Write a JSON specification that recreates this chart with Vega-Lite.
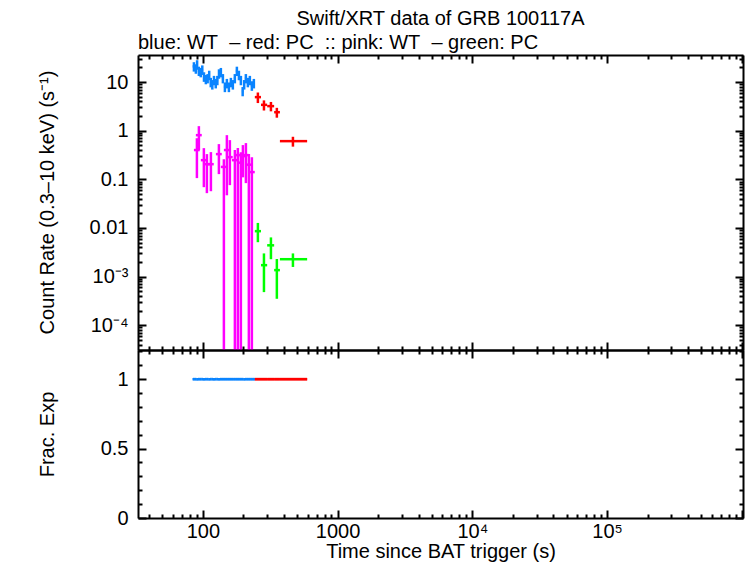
{
  "$schema": "https://vega.github.io/schema/vega-lite/v6.json",
  "background": "white",
  "padding": {"left": 36, "top": 8, "right": 4, "bottom": 4},
  "bounds": "flush",
  "spacing": 0,
  "title": {"text": "Swift/XRT data of GRB 100117A", "anchor": "middle", "frame": "group", "offset": 4},
  "datasets": {
    "xrt": [
      {"s": "blue WT", "t": 85.8, "tlo": 84, "thi": 87.2, "r": 21, "rlo": 16.4, "rhi": 25.6, "fe": 1},
      {"s": "blue WT", "t": 88.7, "tlo": 87.2, "thi": 89.5, "r": 19, "rlo": 14.8, "rhi": 23.2, "fe": 1},
      {"s": "blue WT", "t": 90.6, "tlo": 89.5, "thi": 91.8, "r": 23, "rlo": 17.9, "rhi": 28.1, "fe": 1},
      {"s": "blue WT", "t": 93.4, "tlo": 91.8, "thi": 95, "r": 17, "rlo": 13.3, "rhi": 20.7, "fe": 1},
      {"s": "blue WT", "t": 96.4, "tlo": 95, "thi": 97.8, "r": 16, "rlo": 12.5, "rhi": 19.5, "fe": 1},
      {"s": "blue WT", "t": 99, "tlo": 97.8, "thi": 100.3, "r": 18, "rlo": 14, "rhi": 22, "fe": 1},
      {"s": "blue WT", "t": 101.9, "tlo": 100.3, "thi": 103.5, "r": 13, "rlo": 10.1, "rhi": 15.9, "fe": 1},
      {"s": "blue WT", "t": 105.2, "tlo": 103.5, "thi": 107, "r": 11.5, "rlo": 9, "rhi": 14, "fe": 1},
      {"s": "blue WT", "t": 108.5, "tlo": 107, "thi": 110, "r": 12, "rlo": 9.4, "rhi": 14.6, "fe": 1},
      {"s": "blue WT", "t": 111.4, "tlo": 110, "thi": 112.8, "r": 14, "rlo": 10.9, "rhi": 17.1, "fe": 1},
      {"s": "blue WT", "t": 114.4, "tlo": 112.8, "thi": 116, "r": 10, "rlo": 7.8, "rhi": 12.2, "fe": 1},
      {"s": "blue WT", "t": 117.5, "tlo": 116, "thi": 119, "r": 9, "rlo": 7, "rhi": 11, "fe": 1},
      {"s": "blue WT", "t": 120.9, "tlo": 119, "thi": 122.8, "r": 11, "rlo": 8.6, "rhi": 13.4, "fe": 1},
      {"s": "blue WT", "t": 124.6, "tlo": 122.8, "thi": 126.5, "r": 9.5, "rlo": 7.4, "rhi": 11.6, "fe": 1},
      {"s": "blue WT", "t": 128.1, "tlo": 126.5, "thi": 129.8, "r": 11, "rlo": 8.6, "rhi": 13.4, "fe": 1},
      {"s": "blue WT", "t": 131.7, "tlo": 129.8, "thi": 133.7, "r": 15, "rlo": 11.7, "rhi": 18.3, "fe": 1},
      {"s": "blue WT", "t": 136, "tlo": 133.7, "thi": 138.4, "r": 16, "rlo": 12.5, "rhi": 19.5, "fe": 1},
      {"s": "blue WT", "t": 140.8, "tlo": 138.4, "thi": 143.2, "r": 12, "rlo": 9.4, "rhi": 14.6, "fe": 1},
      {"s": "blue WT", "t": 145.7, "tlo": 143.2, "thi": 148.2, "r": 8, "rlo": 6.2, "rhi": 9.8, "fe": 1},
      {"s": "blue WT", "t": 150.7, "tlo": 148.2, "thi": 153.3, "r": 9.5, "rlo": 7.4, "rhi": 11.6, "fe": 1},
      {"s": "blue WT", "t": 156, "tlo": 153.3, "thi": 158.7, "r": 8, "rlo": 6.2, "rhi": 9.8, "fe": 1},
      {"s": "blue WT", "t": 161.4, "tlo": 158.7, "thi": 164.2, "r": 10, "rlo": 7.8, "rhi": 12.2, "fe": 1},
      {"s": "blue WT", "t": 166.9, "tlo": 164.2, "thi": 169.7, "r": 9, "rlo": 7, "rhi": 11, "fe": 1},
      {"s": "blue WT", "t": 172.7, "tlo": 169.7, "thi": 175.7, "r": 12, "rlo": 9.4, "rhi": 14.6, "fe": 1},
      {"s": "blue WT", "t": 178.8, "tlo": 175.7, "thi": 182, "r": 17, "rlo": 13.3, "rhi": 20.7, "fe": 1},
      {"s": "blue WT", "t": 185.1, "tlo": 182, "thi": 188.2, "r": 14, "rlo": 10.9, "rhi": 17.1, "fe": 1},
      {"s": "blue WT", "t": 191.5, "tlo": 188.2, "thi": 194.8, "r": 11, "rlo": 8.6, "rhi": 13.4, "fe": 1},
      {"s": "blue WT", "t": 197.4, "tlo": 194.8, "thi": 200, "r": 6.5, "rlo": 5.1, "rhi": 7.9, "fe": 1},
      {"s": "blue WT", "t": 202.5, "tlo": 200, "thi": 205, "r": 9, "rlo": 7, "rhi": 11, "fe": 1},
      {"s": "blue WT", "t": 208.5, "tlo": 205, "thi": 212, "r": 12, "rlo": 9.4, "rhi": 14.6, "fe": 1},
      {"s": "blue WT", "t": 215.7, "tlo": 212, "thi": 219.5, "r": 10, "rlo": 7.8, "rhi": 12.2, "fe": 1},
      {"s": "blue WT", "t": 223.2, "tlo": 219.5, "thi": 227, "r": 11, "rlo": 8.6, "rhi": 13.4, "fe": 1},
      {"s": "blue WT", "t": 231, "tlo": 227, "thi": 235, "r": 8.5, "rlo": 6.6, "rhi": 10.4, "fe": 1},
      {"s": "blue WT", "t": 239, "tlo": 235, "thi": 243, "r": 9.5, "rlo": 7.4, "rhi": 11.6, "fe": 1},
      {"s": "red PC", "t": 256, "tlo": 243, "thi": 270, "r": 4.9, "rlo": 3.7, "rhi": 6.1, "fe": 1},
      {"s": "red PC", "t": 284, "tlo": 270, "thi": 300, "r": 3.4, "rlo": 2.6, "rhi": 4.2, "fe": 1},
      {"s": "red PC", "t": 320, "tlo": 300, "thi": 338, "r": 3.2, "rlo": 2.5, "rhi": 3.9, "fe": 1},
      {"s": "red PC", "t": 354, "tlo": 338, "thi": 373, "r": 2.4, "rlo": 1.85, "rhi": 2.95, "fe": 1},
      {"s": "red PC", "t": 466, "tlo": 373, "thi": 594, "r": 0.61, "rlo": 0.47, "rhi": 0.75, "fe": 1},
      {"s": "pink WT", "t": 90.3, "tlo": 85.8, "thi": 94.8, "r": 0.4, "rlo": 0.106, "rhi": 0.7},
      {"s": "pink WT", "t": 93.4, "tlo": 88.7, "thi": 98.1, "r": 0.81, "rlo": 0.4, "rhi": 1.24},
      {"s": "pink WT", "t": 101.7, "tlo": 96.6, "thi": 106.8, "r": 0.248, "rlo": 0.069, "rhi": 0.438},
      {"s": "pink WT", "t": 107.1, "tlo": 101.7, "thi": 112.5, "r": 0.205, "rlo": 0.052, "rhi": 0.33},
      {"s": "pink WT", "t": 114.7, "tlo": 109, "thi": 120.4, "r": 0.205, "rlo": 0.057, "rhi": 0.363},
      {"s": "pink WT", "t": 131.5, "tlo": 124.9, "thi": 138.1, "r": 0.33, "rlo": 0.128, "rhi": 0.53},
      {"s": "pink WT", "t": 143.2, "tlo": 136, "thi": 150.4, "r": 0.18, "rlo": 0.000001, "rhi": 0.26},
      {"s": "pink WT", "t": 150.7, "tlo": 143.2, "thi": 158.2, "r": 0.4, "rlo": 0.047, "rhi": 0.81},
      {"s": "pink WT", "t": 158.6, "tlo": 150.7, "thi": 166.5, "r": 0.286, "rlo": 0.076, "rhi": 0.64},
      {"s": "pink WT", "t": 172.8, "tlo": 164.2, "thi": 181.4, "r": 0.248, "rlo": 0.000001, "rhi": 0.4},
      {"s": "pink WT", "t": 181.8, "tlo": 172.7, "thi": 190.9, "r": 0.315, "rlo": 0.000001, "rhi": 0.44},
      {"s": "pink WT", "t": 191.4, "tlo": 181.8, "thi": 201, "r": 0.22, "rlo": 0.000001, "rhi": 0.36},
      {"s": "pink WT", "t": 198.2, "tlo": 188.3, "thi": 208.1, "r": 0.3, "rlo": 0.11, "rhi": 0.506},
      {"s": "pink WT", "t": 208.6, "tlo": 198.2, "thi": 219, "r": 0.315, "rlo": 0.0836, "rhi": 0.556},
      {"s": "pink WT", "t": 219.4, "tlo": 208.4, "thi": 230.4, "r": 0.2, "rlo": 0.000001, "rhi": 0.33},
      {"s": "pink WT", "t": 231, "tlo": 219.5, "thi": 242.6, "r": 0.141, "rlo": 0.000001, "rhi": 0.286},
      {"s": "green PC", "t": 256, "tlo": 243, "thi": 270, "r": 0.0086, "rlo": 0.0051, "rhi": 0.0127},
      {"s": "green PC", "t": 284, "tlo": 270, "thi": 300, "r": 0.00172, "rlo": 0.00048, "rhi": 0.003},
      {"s": "green PC", "t": 320, "tlo": 300, "thi": 338, "r": 0.0044, "rlo": 0.00228, "rhi": 0.0064},
      {"s": "green PC", "t": 354, "tlo": 338, "thi": 373, "r": 0.00136, "rlo": 0.00035, "rhi": 0.0023},
      {"s": "green PC", "t": 466, "tlo": 373, "thi": 594, "r": 0.00228, "rlo": 0.00158, "rhi": 0.003}
    ]
  },
  "data": {"name": "xrt"},
  "vconcat": [
    {
      "width": 605,
      "height": 295,
      "title": {"text": "blue: WT\u00a0 – red: PC\u00a0 :: pink: WT\u00a0 – green: PC", "anchor": "start", "frame": "group", "offset": -4},
      "layer": [
        {
          "mark": {"type": "rule", "strokeWidth": 2.5, "clip": true},
          "encoding": {
            "x": {"field": "t", "type": "quantitative",
              "scale": {"type": "log", "domain": [33, 1020000], "nice": false},
              "axis": {"orient": "bottom", "title": null, "labels": false,
                "values": [40,50,60,70,80,90,100,200,300,400,500,600,700,800,900,1000,2000,3000,4000,5000,6000,7000,8000,9000,10000,20000,30000,40000,50000,60000,70000,80000,90000,100000,200000,300000,400000,500000,600000,700000,800000,900000,1000000],
                "tickSize": {"condition": {"test": "abs(log(datum.value)/LN10 - round(log(datum.value)/LN10)) < 0.001", "value": -8}, "value": -4}}},
            "y": {"field": "rlo", "type": "quantitative",
              "scale": {"type": "log", "domain": [0.000031, 36], "nice": false},
              "axis": {"orient": "left", "title": "Count Rate (0.3–10 keV) (s⁻¹)", "labelPadding": 18,
                "titleX": -91, "titleY": 147, "titleAngle": -90, "titleBaseline": "middle", "titleAlign": "center",
                "values": [0.00004,0.00005,0.00006,0.00007,0.00008,0.00009,0.0001,0.0002,0.0003,0.0004,0.0005,0.0006,0.0007,0.0008,0.0009,0.001,0.002,0.003,0.004,0.005,0.006,0.007,0.008,0.009,0.01,0.02,0.03,0.04,0.05,0.06,0.07,0.08,0.09,0.1,0.2,0.3,0.4,0.5,0.6,0.7,0.8,0.9,1,2,3,4,5,6,7,8,9,10,20,30],
                "labelExpr": "abs(datum.value-10)<1e-9 ? '10' : abs(datum.value-1)<1e-9 ? '1' : abs(datum.value-0.1)<1e-9 ? '0.1' : abs(datum.value-0.01)<1e-9 ? '0.01' : abs(datum.value-0.001)<1e-10 ? '10⁻³' : abs(datum.value-0.0001)<1e-11 ? '10⁻⁴' : ''",
                "tickSize": {"condition": {"test": "abs(log(datum.value)/LN10 - round(log(datum.value)/LN10)) < 0.001", "value": -8}, "value": -4}}},
            "y2": {"field": "rhi"},
            "color": {"field": "s", "type": "nominal",
              "scale": {"domain": ["blue WT", "red PC", "pink WT", "green PC"], "range": ["#0a84ff", "#ff0000", "#ff00ff", "#00ff00"]},
              "legend": null}
          }
        },
        {
          "mark": {"type": "rule", "strokeWidth": 2.5, "clip": true},
          "encoding": {
            "x": {"field": "tlo", "type": "quantitative",
              "scale": {"type": "log", "domain": [33, 1020000], "nice": false},
              "axis": {"orient": "top", "title": null, "labels": false,
                "values": [40,50,60,70,80,90,100,200,300,400,500,600,700,800,900,1000,2000,3000,4000,5000,6000,7000,8000,9000,10000,20000,30000,40000,50000,60000,70000,80000,90000,100000,200000,300000,400000,500000,600000,700000,800000,900000,1000000],
                "tickSize": {"condition": {"test": "abs(log(datum.value)/LN10 - round(log(datum.value)/LN10)) < 0.001", "value": -8}, "value": -4}}},
            "x2": {"field": "thi"},
            "y": {"field": "r", "type": "quantitative",
              "scale": {"type": "log", "domain": [0.000031, 36], "nice": false},
              "axis": {"orient": "right", "title": null, "labels": false,
                "values": [0.00004,0.00005,0.00006,0.00007,0.00008,0.00009,0.0001,0.0002,0.0003,0.0004,0.0005,0.0006,0.0007,0.0008,0.0009,0.001,0.002,0.003,0.004,0.005,0.006,0.007,0.008,0.009,0.01,0.02,0.03,0.04,0.05,0.06,0.07,0.08,0.09,0.1,0.2,0.3,0.4,0.5,0.6,0.7,0.8,0.9,1,2,3,4,5,6,7,8,9,10,20,30],
                "tickSize": {"condition": {"test": "abs(log(datum.value)/LN10 - round(log(datum.value)/LN10)) < 0.001", "value": -8}, "value": -4}}},
            "color": {"field": "s", "type": "nominal",
              "scale": {"domain": ["blue WT", "red PC", "pink WT", "green PC"], "range": ["#0a84ff", "#ff0000", "#ff00ff", "#00ff00"]},
              "legend": null}
          }
        }
      ],
      "resolve": {"axis": {"x": "independent", "y": "independent"}}
    },
    {
      "width": 605,
      "height": 168,
      "transform": [{"filter": "isValid(datum.fe)"}],
      "layer": [
        {
          "mark": {"type": "rule", "strokeWidth": 2.5},
          "encoding": {
            "x": {"field": "tlo", "type": "quantitative",
              "scale": {"type": "log", "domain": [33, 1020000], "nice": false},
              "axis": {"orient": "bottom", "title": "Time since BAT trigger (s)", "labelPadding": 11,
                "titleY": 33, "titleBaseline": "middle", "titleAlign": "center",
                "values": [40,50,60,70,80,90,100,200,300,400,500,600,700,800,900,1000,2000,3000,4000,5000,6000,7000,8000,9000,10000,20000,30000,40000,50000,60000,70000,80000,90000,100000,200000,300000,400000,500000,600000,700000,800000,900000,1000000],
                "labelExpr": "abs(datum.value-100)<1e-6 ? '100' : abs(datum.value-1000)<1e-6 ? '1000' : abs(datum.value-10000)<1e-3 ? '10⁴' : abs(datum.value-100000)<1e-2 ? '10⁵' : ''",
                "tickSize": {"condition": {"test": "abs(log(datum.value)/LN10 - round(log(datum.value)/LN10)) < 0.001", "value": -8}, "value": -4}}},
            "x2": {"field": "thi"},
            "y": {"field": "fe", "type": "quantitative",
              "scale": {"domain": [0, 1.21], "nice": false, "zero": false},
              "axis": {"orient": "left", "title": "Frac. Exp", "labelPadding": 18,
                "titleX": -91, "titleY": 84, "titleAngle": -90, "titleBaseline": "middle", "titleAlign": "center",
                "values": [0,0.1,0.2,0.3,0.4,0.5,0.6,0.7,0.8,0.9,1,1.1,1.2],
                "labelExpr": "datum.value == 0 ? '0' : abs(datum.value-0.5)<1e-6 ? '0.5' : abs(datum.value-1)<1e-6 ? '1' : ''",
                "tickSize": {"condition": {"test": "datum.value == 0 || abs(datum.value-0.5)<1e-6 || abs(datum.value-1)<1e-6", "value": -8}, "value": -4}}},
            "color": {"field": "s", "type": "nominal",
              "scale": {"domain": ["blue WT", "red PC", "pink WT", "green PC"], "range": ["#0a84ff", "#ff0000", "#ff00ff", "#00ff00"]},
              "legend": null}
          }
        },
        {
          "mark": {"type": "rule", "strokeWidth": 2.5},
          "encoding": {
            "x": {"field": "tlo", "type": "quantitative",
              "scale": {"type": "log", "domain": [33, 1020000], "nice": false},
              "axis": {"orient": "top", "title": null, "labels": false,
                "values": [40,50,60,70,80,90,100,200,300,400,500,600,700,800,900,1000,2000,3000,4000,5000,6000,7000,8000,9000,10000,20000,30000,40000,50000,60000,70000,80000,90000,100000,200000,300000,400000,500000,600000,700000,800000,900000,1000000],
                "tickSize": {"condition": {"test": "abs(log(datum.value)/LN10 - round(log(datum.value)/LN10)) < 0.001", "value": -8}, "value": -4}}},
            "x2": {"field": "thi"},
            "y": {"field": "fe", "type": "quantitative",
              "scale": {"domain": [0, 1.21], "nice": false, "zero": false},
              "axis": {"orient": "right", "title": null, "labels": false,
                "values": [0,0.1,0.2,0.3,0.4,0.5,0.6,0.7,0.8,0.9,1,1.1,1.2],
                "tickSize": {"condition": {"test": "datum.value == 0 || abs(datum.value-0.5)<1e-6 || abs(datum.value-1)<1e-6", "value": -8}, "value": -4}}},
            "color": {"field": "s", "type": "nominal",
              "scale": {"domain": ["blue WT", "red PC", "pink WT", "green PC"], "range": ["#0a84ff", "#ff0000", "#ff00ff", "#00ff00"]},
              "legend": null}
          }
        }
      ],
      "resolve": {"axis": {"x": "independent", "y": "independent"}}
    }
  ],
  "config": {
    "font": "Liberation Sans",
    "view": {"stroke": null},
    "axis": {
      "grid": false,
      "domainColor": "black", "domainWidth": 2,
      "tickColor": "black", "tickWidth": 2,
      "labelFont": "Liberation Sans", "labelFontSize": 20, "labelColor": "black",
      "labelFlush": false, "labelOverlap": false, "labelPadding": 4,
      "titleFont": "Liberation Sans", "titleFontSize": 20, "titleFontWeight": "normal", "titleColor": "black"
    },
    "title": {"font": "Liberation Sans", "fontSize": 20, "fontWeight": "normal", "color": "black"}
  }
}
